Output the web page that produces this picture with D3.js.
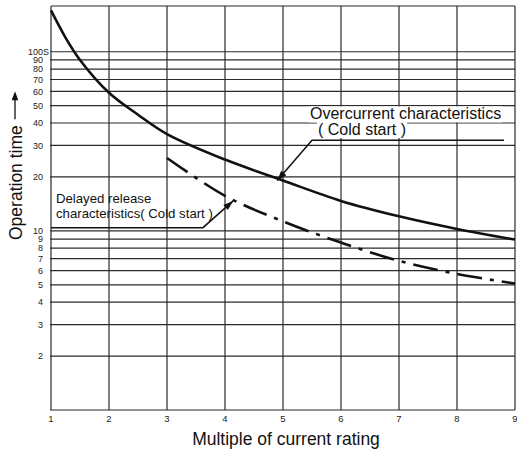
<!DOCTYPE html>
<html>
<head>
<meta charset="utf-8">
<script src="https://cdn.jsdelivr.net/npm/d3@7"></script>
<style>
  body { margin: 0; background: #fff; }
  svg { display: block; font-family: "Liberation Sans", Arial, sans-serif; }
</style>
</head>
<body>
<svg id="chart" width="517" height="454"></svg>
<script>
// Multiple of current rating (x) and operation time in seconds (y, log)
const multiples = [1, 2, 3, 4, 5, 6, 7, 8, 9];
const gridTimes = [1, 2, 3, 4, 5, 6, 7, 8, 9, 10, 20, 30, 40, 50, 60, 70, 80, 90, 100];
const timeLabels = [2, 3, 4, 5, 6, 7, 8, 9, 10, 20, 30, 40, 50, 60, 70, 80, 90, 100];
const timeUnit = "S";
const timeMax = 180;

// Overcurrent characteristics (cold start)
const overcurrentX = [1, 1.25, 1.5, 2, 2.5, 3, 4, 5, 6, 7, 8, 9];
const overcurrentY = [170, 120, 90, 59, 44.5, 34.7, 25.0, 19.1, 14.7, 12.06, 10.25, 8.94];

// Delayed release characteristics (cold start)
const delayedX = [3, 4, 5, 6, 7, 8, 9];
const delayedY = [25.5, 15.7, 11.3, 8.6, 6.8, 5.75, 5.08];

const overcurrentNote = ["Overcurrent characteristics", "( Cold start )"];
const delayedNote = ["Delayed release", "characteristics( Cold start )"];
const xTitle = "Multiple of current rating";
const yTitle = "Operation time";

const svg = d3.select("#chart");
const plotLeft = 51, plotRight = 515, plotTop = 6, plotBottom = 410;

const x = d3.scaleLinear().domain([1, 9]).range([plotLeft, plotRight]);
const y = d3.scaleLog().domain([1, timeMax]).range([plotBottom, plotTop]);

const gridColor = "#2a2a2a";

// Grid
const grid = svg.append("g");
grid.selectAll(".vline").data(multiples).join("line")
  .attr("x1", d => x(d)).attr("x2", d => x(d))
  .attr("y1", plotTop).attr("y2", plotBottom)
  .attr("stroke", gridColor).attr("stroke-width", 1.2);
grid.selectAll(".hline").data(gridTimes).join("line")
  .attr("x1", plotLeft - 1).attr("x2", plotRight)
  .attr("y1", d => y(d)).attr("y2", d => y(d))
  .attr("stroke", gridColor).attr("stroke-width", 1.2);
// top edge of the frame
grid.append("line")
  .attr("x1", plotLeft).attr("x2", plotRight)
  .attr("y1", y(timeMax)).attr("y2", y(timeMax))
  .attr("stroke", gridColor).attr("stroke-width", 1.2);

// Time tick labels; the top one carries the unit
const unitWidth = 6;
const tl = svg.append("g").selectAll("text").data(timeLabels).join("text")
  .attr("x", d => d === 100 ? 43 + unitWidth : 43)
  .attr("y", d => y(d)).attr("dy", "0.35em")
  .attr("text-anchor", "end").attr("font-size", 9).attr("fill", "#222")
  .text(d => d);
tl.filter(d => d === 100).append("tspan").text(timeUnit);

svg.append("g").selectAll("text").data(multiples).join("text")
  .attr("x", d => x(d)).attr("y", 418.5).attr("dy", "0.35em")
  .attr("text-anchor", "middle").attr("font-size", 9.5).attr("fill", "#222")
  .text(d => d);

// Axis titles
svg.append("text")
  .attr("x", 286).attr("y", 445)
  .attr("text-anchor", "middle").attr("font-size", 17.5).attr("fill", "#111")
  .text(xTitle);

const yt = svg.append("g").attr("transform", "translate(21.5,240) rotate(-90)");
const ytText = yt.append("text").attr("x", 0).attr("y", 0)
  .attr("font-size", 17.5).attr("fill", "#111").text(yTitle);
const tw = ytText.node().getComputedTextLength();
yt.append("line")
  .attr("x1", tw + 6).attr("x2", tw + 28)
  .attr("y1", -6.5).attr("y2", -6.5)
  .attr("stroke", "#111").attr("stroke-width", 1.3);
yt.append("path")
  .attr("d", `M${tw + 34},-6.5 L${tw + 25},-9.8 L${tw + 25},-3.2 Z`)
  .attr("fill", "#111");

// Curves
const line = d3.line()
  .x(d => x(d[0])).y(d => y(d[1]))
  .curve(d3.curveCatmullRom.alpha(0.5));

svg.append("path")
  .datum(d3.zip(overcurrentX, overcurrentY))
  .attr("d", line)
  .attr("fill", "none").attr("stroke", "#111").attr("stroke-width", 2.6);

svg.append("path")
  .datum(d3.zip(delayedX, delayedY))
  .attr("d", line)
  .attr("fill", "none").attr("stroke", "#111").attr("stroke-width", 2.6)
  .attr("stroke-dasharray", "25,8,4,8");

// Leader with arrowhead
function leader(points) {
  const pts = points.map(p => [x(p[0]), y(p[1])]);
  svg.append("path")
    .attr("d", d3.line()(pts))
    .attr("fill", "none").attr("stroke", "#111").attr("stroke-width", 1.5);
  const [a, b] = pts.slice(-2);
  const ang = Math.atan2(b[1] - a[1], b[0] - a[0]);
  const L = 10, W = 3.4;
  const bx = b[0] - L * Math.cos(ang), by = b[1] - L * Math.sin(ang);
  const px = -Math.sin(ang) * W, py = Math.cos(ang) * W;
  svg.append("path")
    .attr("d", `M${b[0]},${b[1]} L${bx + px},${by + py} L${bx - px},${by - py} Z`)
    .attr("fill", "#111");
}

// Overcurrent annotation (text on white background)
const ocElbow = [5.5, 32];
const ocText = svg.append("g");
const ocLines = [
  { t: overcurrentNote[0], dx: -2, dy: -21 },
  { t: overcurrentNote[1], dx: 6, dy: -5.3 }
];
ocLines.forEach(l => {
  const t = ocText.append("text")
    .attr("x", x(ocElbow[0]) + l.dx).attr("y", y(ocElbow[1]) + l.dy)
    .attr("font-size", 16).attr("fill", "#111").text(l.t);
  const bb = t.node().getBBox();
  ocText.insert("rect", "text")
    .attr("x", bb.x - 1).attr("y", bb.y + 1)
    .attr("width", bb.width + 2).attr("height", bb.height - 1)
    .attr("fill", "#fff");
});
leader([[8.81, 32], ocElbow, [4.9, 19.1]]);

// Delayed release annotation
const drElbow = [3.62, 10.42];
svg.append("text")
  .attr("x", x(1) + 5).attr("y", y(drElbow[1]) - 24.7)
  .attr("font-size", 13.2).attr("fill", "#111").text(delayedNote[0]);
svg.append("text")
  .attr("x", x(1) + 5).attr("y", y(drElbow[1]) - 9.4)
  .attr("font-size", 13.2).attr("fill", "#111").text(delayedNote[1]);
leader([[1, 10.42], drElbow, [4.14, 14.7]]);
</script>
</body>
</html>
